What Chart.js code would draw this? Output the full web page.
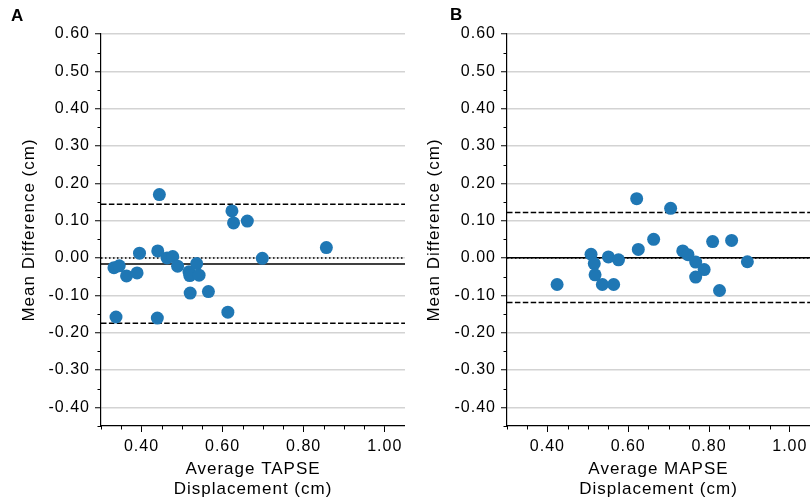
<!DOCTYPE html>
<html><head><meta charset="utf-8">
<script src="https://cdn.jsdelivr.net/npm/chart.js@4/dist/chart.umd.min.js"></script>
<style>
html,body{margin:0;padding:0;background:#fff;}
#wrap{position:relative;width:810px;height:504px;overflow:hidden;background:#fff;}
canvas{position:absolute;top:0;}
#cA{left:0}
#cB{left:405px}
.lab{position:absolute;font:bold 17px "Liberation Sans",Arial,sans-serif;color:#000;line-height:normal;}
</style></head><body>
<div id="wrap">
<canvas id="cA" width="405" height="504"></canvas>
<canvas id="cB" width="405" height="504"></canvas>
<div class="lab" style="left:11px;top:6px">A</div>
<div class="lab" style="left:450px;top:5px">B</div>
</div>
<script>
// ---- data ----
const tapseAvg  = [0.332,0.345,0.363,0.389,0.395,0.444,0.440,0.463,0.477,0.489,0.517,0.519,0.536,0.542,0.520,0.565,0.337,0.439,0.613,0.623,0.627,0.661,0.698,0.856];
const tapseDiff = [-0.026,-0.021,-0.048,-0.040,0.013,0.170,0.019,0.000,0.004,-0.022,-0.037,-0.047,-0.015,-0.046,-0.094,-0.090,-0.158,-0.161,-0.145,0.126,0.094,0.099,-0.001,0.028];
const tapseLines = [0.144, -0.016, -0.175]; // upper LoA, mean bias, lower LoA

const mapseAvg  = [0.424,0.508,0.516,0.518,0.536,0.551,0.564,0.576,0.621,0.625,0.663,0.705,0.735,0.748,0.767,0.788,0.767,0.809,0.826,0.856,0.895];
const mapseDiff = [-0.071,0.010,-0.015,-0.045,-0.071,0.003,-0.071,-0.005,0.159,0.023,0.050,0.133,0.019,0.009,-0.011,-0.031,-0.051,0.044,-0.087,0.047,-0.010];
const mapseLines = [0.122, 0.001, -0.119];

const zeroLine = 0.0;
const xRange = [0.30, 1.05];
const yRange = [-0.45, 0.60];
const xTickLabels = ['0.40','0.60','0.80','1.00'];
const yTitle = 'Mean Difference (cm)';
const xTitleA = ['Average TAPSE','Displacement (cm)'];
const xTitleB = ['Average MAPSE','Displacement (cm)'];

// ---- chart ----
const FONT = '"Liberation Sans", Arial, sans-serif';
const r100 = v => Math.round(v*100);
const isMajorY = v => r100(v) % 10 === 0;
const isMajorX = v => xTickLabels.includes((r100(v)/100).toFixed(2));

const spacing = {
  id:'spacing',
  beforeUpdate(chart){ chart.ctx.letterSpacing = '1px'; },
  beforeLayout(chart){ chart.ctx.letterSpacing = '1px'; },
  beforeDraw(chart){ chart.ctx.letterSpacing = '1px'; }
};

const minorTicks = {
  id:'minorTicks',
  afterDraw(chart){
    const ctx = chart.ctx, ca = chart.chartArea;
    const xs = chart.scales.x, ys = chart.scales.y;
    ctx.save();
    ctx.strokeStyle = '#000'; ctx.lineWidth = 1;
    xs.ticks.forEach(t => {
      if (isMajorX(t.value)) return;
      const px = Math.round(xs.getPixelForValue(t.value)) + 0.5;
      ctx.beginPath(); ctx.moveTo(px, ca.bottom); ctx.lineTo(px, ca.bottom + 3.5); ctx.stroke();
    });
    ys.ticks.forEach(t => {
      if (isMajorY(t.value)) return;
      const py = Math.round(ys.getPixelForValue(t.value)) + 0.5;
      ctx.beginPath(); ctx.moveTo(ca.left - 3.5, py); ctx.lineTo(ca.left, py); ctx.stroke();
    });
    ctx.restore();
  }
};

function hline(y, dash, lw){
  return {data:[{x:xRange[0],y},{x:xRange[1],y}], showLine:true, borderColor:'#000', borderWidth:lw,
    borderDash:dash, pointRadius:0, pointHoverRadius:0, fill:false, order:1};
}

function makeChart(id, avg, diff, lines, xTitle, leftW){
  return new Chart(document.getElementById(id), {
    type:'scatter',
    data:{datasets:[
      {data: avg.map((x,i)=>({x, y:diff[i]})), backgroundColor:'#1f77b4', borderColor:'#1f77b4',
       borderWidth:0, pointRadius:6.5, pointHoverRadius:6.5, order:0},
      hline(lines[0],[5.5,2.4],1.5),
      hline(lines[1],[],1.5),
      hline(lines[2],[5.5,2.4],1.5),
      hline(zeroLine,[1.5,2.5],1.5)
    ]},
    options:{
      responsive:false, animation:false, events:[],
      plugins:{legend:{display:false}, tooltip:{enabled:false}},
      layout:{autoPadding:false, padding:{top:34,right:0,bottom:0,left:0}},
      scales:{
        x:{type:'linear', min:xRange[0], max:xRange[1],
          afterFit: s => { s.height = 78; s.paddingRight = 0; s.paddingLeft = 0; },
          ticks:{stepSize:0.05, autoSkip:false, maxRotation:0, minRotation:0, padding:5, color:'#000',
            font:{size:16, family:FONT}, callback: v => isMajorX(v) ? (r100(v)/100).toFixed(2) : ''},
          grid:{color:'rgba(0,0,0,0)', tickColor: c => (c.tick && isMajorX(c.tick.value)) ? '#000' : 'rgba(0,0,0,0)',
            tickLength:6, tickWidth:1},
          border:{display:true, color:'#000', width:1.2},
          title:{display:true, text:xTitle, color:'#000', font:{size:17, family:FONT, lineHeight:1.2}, padding:{top:2,bottom:4}}
        },
        y:{type:'linear', min:yRange[0], max:yRange[1],
          afterFit: s => { s.width = leftW; },
          ticks:{stepSize:0.05, autoSkip:false, padding:5, color:'#000',
            font:{size:16, family:FONT}, callback: v => isMajorY(v) ? (r100(v)/100).toFixed(2) : ''},
          grid:{color: c => (c.tick && isMajorY(c.tick.value)) ? '#d3d3d3' : 'rgba(0,0,0,0)',
            lineWidth:1.5,
            tickColor: c => (c.tick && isMajorY(c.tick.value)) ? '#000' : 'rgba(0,0,0,0)',
            tickLength:6, tickWidth:1},
          border:{display:true, color:'#000', width:1.2},
          title:{display:true, text:yTitle, color:'#000', font:{size:17, family:FONT, lineHeight:1.2}, padding:{top:19,bottom:0}}
        }
      }
    },
    plugins:[spacing, minorTicks]
  });
}

makeChart('cA', tapseAvg, tapseDiff, tapseLines, xTitleA, 101);
makeChart('cB', mapseAvg, mapseDiff, mapseLines, xTitleB, 102);
</script>
</body></html>
